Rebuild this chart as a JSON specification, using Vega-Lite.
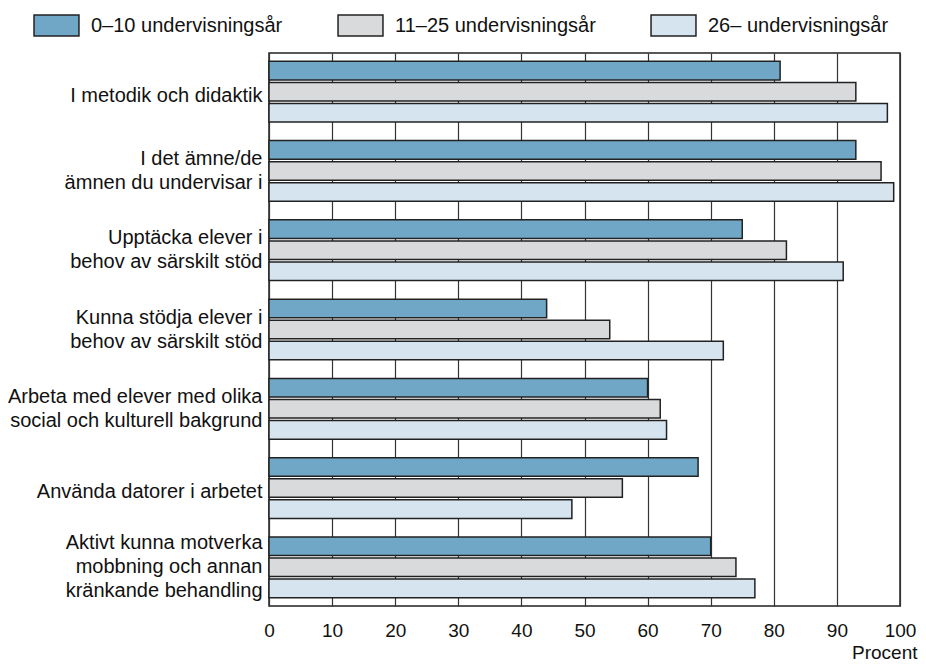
{
  "$schema": "https://vega.github.io/schema/vega-lite/v6.json",
  "autosize": "none",
  "padding": {"left": 269, "top": 53, "right": 26, "bottom": 58},
  "width": 631,
  "height": 553,
  "config": {
    "font": "Liberation Sans",
    "view": {"stroke": "#222", "strokeWidth": 1.5},
    "background": "white"
  },
  "data": {
    "values": [
      {"kategori": "I metodik och didaktik", "grupp": "0–10 undervisningsår", "procent": 81},
      {"kategori": "I metodik och didaktik", "grupp": "11–25 undervisningsår", "procent": 93},
      {"kategori": "I metodik och didaktik", "grupp": "26– undervisningsår", "procent": 98},
      {"kategori": "I det ämne/de|ämnen du undervisar i", "grupp": "0–10 undervisningsår", "procent": 93},
      {"kategori": "I det ämne/de|ämnen du undervisar i", "grupp": "11–25 undervisningsår", "procent": 97},
      {"kategori": "I det ämne/de|ämnen du undervisar i", "grupp": "26– undervisningsår", "procent": 99},
      {"kategori": "Upptäcka elever i|behov av särskilt stöd", "grupp": "0–10 undervisningsår", "procent": 75},
      {"kategori": "Upptäcka elever i|behov av särskilt stöd", "grupp": "11–25 undervisningsår", "procent": 82},
      {"kategori": "Upptäcka elever i|behov av särskilt stöd", "grupp": "26– undervisningsår", "procent": 91},
      {"kategori": "Kunna stödja elever i|behov av särskilt stöd", "grupp": "0–10 undervisningsår", "procent": 44},
      {"kategori": "Kunna stödja elever i|behov av särskilt stöd", "grupp": "11–25 undervisningsår", "procent": 54},
      {"kategori": "Kunna stödja elever i|behov av särskilt stöd", "grupp": "26– undervisningsår", "procent": 72},
      {"kategori": "Arbeta med elever med olika|social och kulturell bakgrund", "grupp": "0–10 undervisningsår", "procent": 60},
      {"kategori": "Arbeta med elever med olika|social och kulturell bakgrund", "grupp": "11–25 undervisningsår", "procent": 62},
      {"kategori": "Arbeta med elever med olika|social och kulturell bakgrund", "grupp": "26– undervisningsår", "procent": 63},
      {"kategori": "Använda datorer i arbetet", "grupp": "0–10 undervisningsår", "procent": 68},
      {"kategori": "Använda datorer i arbetet", "grupp": "11–25 undervisningsår", "procent": 56},
      {"kategori": "Använda datorer i arbetet", "grupp": "26– undervisningsår", "procent": 48},
      {"kategori": "Aktivt kunna motverka|mobbning och annan|kränkande behandling", "grupp": "0–10 undervisningsår", "procent": 70},
      {"kategori": "Aktivt kunna motverka|mobbning och annan|kränkande behandling", "grupp": "11–25 undervisningsår", "procent": 74},
      {"kategori": "Aktivt kunna motverka|mobbning och annan|kränkande behandling", "grupp": "26– undervisningsår", "procent": 77}
    ]
  },
  "mark": {"type": "bar", "stroke": "#222", "strokeWidth": 1.5},
  "encoding": {
    "y": {
      "field": "kategori",
      "type": "nominal",
      "sort": null,
      "scale": {"paddingInner": 0.234, "paddingOuter": 0.105},
      "axis": {
        "title": null,
        "domain": false,
        "ticks": false,
        "labelPadding": 7,
        "labelFontSize": 20,
        "labelColor": "#111",
        "labelLineHeight": 24,
        "labelLimit": 320,
        "labelOffset": {
          "condition": [
            {"test": "length(split(datum.value, '|')) == 3", "value": -24},
            {"test": "length(split(datum.value, '|')) == 2", "value": -12}
          ],
          "value": 4
        },
        "labelExpr": "split(datum.label, '|')"
      }
    },
    "yOffset": {
      "field": "grupp",
      "type": "nominal",
      "sort": null,
      "scale": {"paddingInner": 0.12}
    },
    "x": {
      "field": "procent",
      "type": "quantitative",
      "scale": {"domain": [0, 100], "nice": false},
      "axis": {
        "title": "Procent",
        "titleX": 648,
        "titleY": 46,
        "titleAlign": "right",
        "titleBaseline": "middle",
        "titleFontWeight": "normal",
        "titleFontSize": 19,
        "titleColor": "#111",
        "values": [0, 10, 20, 30, 40, 50, 60, 70, 80, 90, 100],
        "domain": false,
        "ticks": false,
        "labelPadding": 15,
        "labelFontSize": 19,
        "labelColor": "#111",
        "labelFlush": false,
        "grid": true,
        "gridColor": "#333",
        "gridWidth": 1.2,
        "gridOpacity": 1
      }
    },
    "color": {
      "field": "grupp",
      "type": "nominal",
      "sort": null,
      "scale": {
        "domain": ["0–10 undervisningsår", "11–25 undervisningsår", "26– undervisningsår"],
        "range": ["#70a6c6", "#d9dadc", "#d6e4ef"]
      },
      "legend": {
        "title": null,
        "orient": "none",
        "direction": "horizontal",
        "legendX": -224,
        "legendY": -39,
        "symbolType": "M-2.14,-1H2.14V1H-2.14Z",
        "symbolSize": 441,
        "symbolStrokeColor": "#222",
        "symbolStrokeWidth": 1.5,
        "symbolOpacity": 1,
        "labelFontSize": 20,
        "labelColor": "#111",
        "labelOffset": 23,
        "columnPadding": 52,
        "labelLimit": 320
      }
    }
  }
}
